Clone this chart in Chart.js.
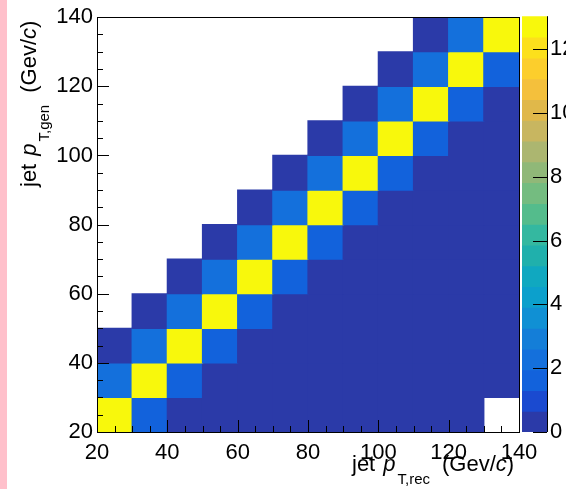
<!DOCTYPE html>
<html>
<head>
<meta charset="utf-8">
<script src="https://cdn.jsdelivr.net/npm/chart.js@4.4.1/dist/chart.umd.min.js"></script>
<style>
  html, body { margin: 0; padding: 0; background: #fff; }
  #wrap { position: relative; width: 566px; height: 489px; overflow: hidden;
          font-family: "Liberation Sans", Arial, sans-serif; }
  #strip { position: absolute; left: 0; top: 0; width: 7px; height: 489px; background: #ffc0cb; }
  #main { position: absolute; left: 0; top: 0; }
  #zbar { position: absolute; left: 500px; top: 0; }
  .title { position: absolute; font-size: 22px; line-height: 22px; white-space: nowrap; color: #000; }
  .title i { margin-left: 8px; }
  .title .sub { font-size: 15px; position: relative; top: 13px; margin-left: 2px; }
  .title .unit { margin-left: 12px; }
  .title .unit i { margin-left: 0; }
  #xtitle { left: 352px; top: 453px; }
  #ytitle { left: 18px; top: 187px; transform: rotate(-90deg); transform-origin: 0 0; }
</style>
</head>
<body>
<div id="wrap">
  <div id="strip"></div>
  <canvas id="main" width="566" height="489"></canvas>
  <canvas id="zbar" width="66" height="489"></canvas>
  <div class="title" id="xtitle">jet<i>p</i><span class="sub">T,rec</span><span class="unit">(Gev/<i>c</i>)</span></div>
  <div class="title" id="ytitle">jet<i>p</i><span class="sub">T,gen</span><span class="unit">(Gev/<i>c</i>)</span></div>
</div>
<script>
// bin edges (GeV/c)
var xEdges = [20, 30, 40, 50, 60, 70, 80, 90, 100, 110, 120, 130, 140];
var yEdges = [20, 30, 40, 50, 60, 70, 80, 90, 100, 110, 120, 130, 140];

// bin contents, one row per gen bin (row 0 = 20-30), null = empty bin
var row0  = [13.0, 1.7, 0.3, 0.3, 0.3, 0.3, 0.3, 0.3, 0.3, 0.3, 0.3, null];
var row1  = [2.4, 13.0, 1.7, 0.3, 0.3, 0.3, 0.3, 0.3, 0.3, 0.3, 0.3, 0.3];
var row2  = [0.3, 2.4, 13.0, 1.7, 0.3, 0.3, 0.3, 0.3, 0.3, 0.3, 0.3, 0.3];
var row3  = [null, 0.3, 2.4, 13.0, 1.7, 0.3, 0.3, 0.3, 0.3, 0.3, 0.3, 0.3];
var row4  = [null, null, 0.3, 2.4, 13.0, 1.7, 0.3, 0.3, 0.3, 0.3, 0.3, 0.3];
var row5  = [null, null, null, 0.3, 2.4, 13.0, 1.7, 0.3, 0.3, 0.3, 0.3, 0.3];
var row6  = [null, null, null, null, 0.3, 2.4, 13.0, 1.7, 0.3, 0.3, 0.3, 0.3];
var row7  = [null, null, null, null, null, 0.3, 2.4, 13.0, 1.7, 0.3, 0.3, 0.3];
var row8  = [null, null, null, null, null, null, 0.3, 2.4, 13.0, 1.7, 0.3, 0.3];
var row9  = [null, null, null, null, null, null, null, 0.3, 2.4, 13.0, 1.7, 0.3];
var row10 = [null, null, null, null, null, null, null, null, 0.3, 2.4, 13.0, 1.7];
var row11 = [null, null, null, null, null, null, null, null, null, 0.3, 2.4, 13.0];
var rows = [row0, row1, row2, row3, row4, row5, row6, row7, row8, row9, row10, row11];

// colour axis
var zMax = 13.03;
var zTicks = [0, 2, 4, 6, 8, 10, 12];
var palette = [
  "#2b3aa8", "#1a4ad0", "#1262dc", "#1470dc", "#147ed8",
  "#1090d4", "#0ca0cc", "#10a8c0", "#20b0ac", "#34b8a0",
  "#54bc8c", "#74bc80", "#90b878", "#acb670", "#c8b660",
  "#e0b84a", "#f4c03c", "#fcce2c", "#fce01c", "#f8f80c"
];

function colorFor(v) {
  var k = Math.floor(v / zMax * palette.length);
  if (k > palette.length - 1) k = palette.length - 1;
  if (k < 0) k = 0;
  return palette[k];
}

Chart.defaults.font.family = '"Liberation Sans", Arial, sans-serif';
Chart.defaults.font.size = 22;
Chart.defaults.color = "#000";

var cells = [];
var cellColors = [];
for (var j = 0; j < rows.length; j++) {
  for (var i = 0; i < rows[j].length; i++) {
    var v = rows[j][i];
    if (v === null) continue;
    cells.push({ x: (xEdges[i] + xEdges[i + 1]) / 2, y: [yEdges[j], yEdges[j + 1]], v: v });
    cellColors.push(colorFor(v));
  }
}

// ROOT-like frame with ticks on the inside
function drawTick(ctx, x1, y1, x2, y2) {
  ctx.beginPath();
  ctx.moveTo(x1, y1);
  ctx.lineTo(x2, y2);
  ctx.stroke();
}

var frameTicks = {
  id: "frameTicks",
  afterDraw: function (chart) {
    var ctx = chart.ctx, a = chart.chartArea;
    var xs = chart.scales.x, ys = chart.scales.y;
    ctx.save();
    ctx.strokeStyle = "#000";
    ctx.lineWidth = 1;
    ctx.strokeRect(Math.round(a.left) + 0.5, Math.round(a.top) + 0.5,
                   Math.round(a.right - a.left), Math.round(a.bottom - a.top));
    for (var t = 20; t <= 140; t += 5) {
      var len = (t % 20 === 0) ? 12 : 6;
      var px = Math.round(xs.getPixelForValue(t)) + 0.5;
      drawTick(ctx, px, a.bottom, px, a.bottom - len);
      var py = Math.round(ys.getPixelForValue(t)) + 0.5;
      drawTick(ctx, a.left, py, a.left + len, py);
    }
    ctx.restore();
  }
};

new Chart(document.getElementById("main"), {
  type: "bar",
  data: {
    datasets: [{
      data: cells,
      backgroundColor: cellColors,
      borderWidth: 0,
      inflateAmount: 0.6,
      barPercentage: 1,
      categoryPercentage: 1
    }]
  },
  options: {
    responsive: false,
    animation: false,
    devicePixelRatio: 1,
    layout: { padding: { top: 15, right: 47, left: 0, bottom: 0 } },
    plugins: { legend: { display: false }, tooltip: { enabled: false } },
    scales: {
      x: {
        type: "linear",
        min: 20, max: 140,
        offset: false,
        grid: { display: false, drawTicks: false },
        border: { display: false },
        ticks: { stepSize: 20, padding: 8, maxRotation: 0 },
        afterFit: function (s) { s.height = 57; }
      },
      y: {
        type: "linear",
        min: 20, max: 140,
        grid: { display: false, drawTicks: false },
        border: { display: false },
        ticks: { stepSize: 20, padding: 4 },
        afterFit: function (s) { s.width = 97; }
      }
    }
  },
  plugins: [frameTicks]
});

// colour bar
var bands = [];
for (var k = 0; k < palette.length; k++) {
  bands.push({ x: 0.5, y: [k * zMax / palette.length, (k + 1) * zMax / palette.length] });
}

var zFrame = {
  id: "zFrame",
  afterDraw: function (chart) {
    var ctx = chart.ctx, a = chart.chartArea, zs = chart.scales.y;
    ctx.save();
    ctx.strokeStyle = "#000";
    ctx.lineWidth = 1;
    drawTick(ctx, Math.round(a.right) + 0.5, a.top, Math.round(a.right) + 0.5, a.bottom);
    zTicks.forEach(function (t) {
      var py = Math.round(zs.getPixelForValue(t)) + 0.5;
      drawTick(ctx, a.right, py, a.right - 14, py);
    });
    ctx.restore();
  }
};

new Chart(document.getElementById("zbar"), {
  type: "bar",
  data: {
    datasets: [{
      data: bands,
      backgroundColor: palette,
      borderWidth: 0,
      inflateAmount: 0.6,
      barPercentage: 1,
      categoryPercentage: 1
    }]
  },
  options: {
    responsive: false,
    animation: false,
    devicePixelRatio: 1,
    layout: { padding: { top: 15, left: 22, right: 0, bottom: 57 } },
    plugins: { legend: { display: false }, tooltip: { enabled: false } },
    scales: {
      x: { type: "linear", min: 0, max: 1, offset: false, display: false },
      y: {
        position: "right",
        min: 0, max: zMax,
        grid: { display: false, drawTicks: false },
        border: { display: false },
        ticks: { stepSize: 2, padding: 3 },
        afterBuildTicks: function (s) {
          s.ticks = s.ticks.filter(function (t) { return zTicks.indexOf(t.value) >= 0; });
        },
        afterFit: function (s) { s.width = 19; }
      }
    }
  },
  plugins: [zFrame]
});
</script>
</body>
</html>
